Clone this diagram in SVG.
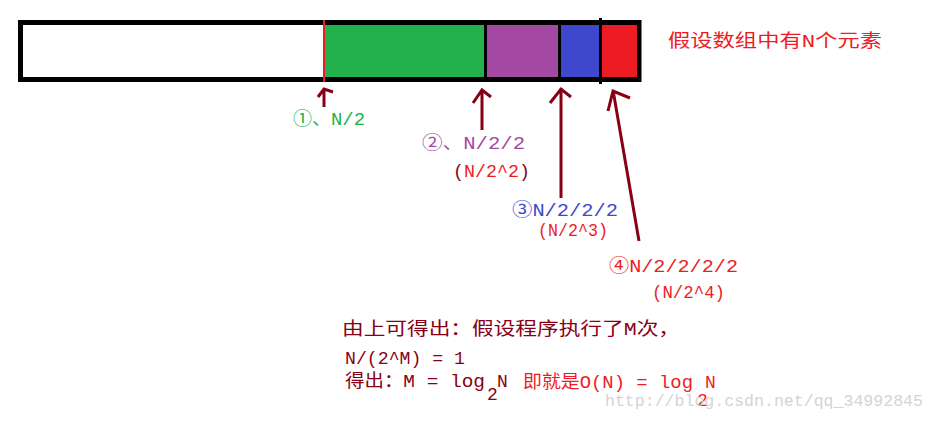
<svg xmlns="http://www.w3.org/2000/svg" width="935" height="421" viewBox="0 0 935 421">
<style>
.t{font-family:"Liberation Mono","Noto Sans CJK SC",monospace;font-size:18px}
.arr{fill:none;stroke:#880015;stroke-width:3;stroke-linecap:butt;stroke-linejoin:miter}
.div{stroke:#000;stroke-width:3}
</style>
<rect x="0" y="0" width="935" height="421" fill="#fff"/>
<g id="bar">
<rect x="20.5" y="22.5" width="618.5" height="57" fill="#fff" stroke="#000" stroke-width="5"/>
<rect x="325" y="25" width="160" height="52" fill="#22b14c"/>
<rect x="486" y="25" width="73" height="52" fill="#a349a4"/>
<rect x="560" y="25" width="40" height="52" fill="#3f48cc"/>
<rect x="601" y="25" width="36" height="52" fill="#ed1c24"/>
<line class="div" x1="485.5" y1="20" x2="485.5" y2="82"/>
<line class="div" x1="559.5" y1="20" x2="559.5" y2="82"/>
<line class="div" x1="600.5" y1="18" x2="600.5" y2="84"/>
<line x1="324" y1="20" x2="324" y2="82" stroke="#ed1c24" stroke-width="2"/>
</g>
<g id="connectors">
<path class="arr" d="M324 107 V88 M318 97 L324 89 L333 92"/>
<path class="arr" d="M482 130 V90 M473 103 L482 90 L491 97"/>
<path class="arr" d="M561 198 V88 M550 103 L561 89 L571 97"/>
<path class="arr" d="M639 241 L613 90 M608 111 L613 91 L630 98"/>
</g>
<g id="label1"><text class="t" x="293" y="125" fill="#22b14c" textLength="72" lengthAdjust="spacingAndGlyphs">①、N/2</text></g>
<g id="label2">
<text class="t" x="422" y="149" fill="#a349a4" textLength="103" lengthAdjust="spacingAndGlyphs">②、N/2/2</text>
<text class="t" x="453" y="177" fill="#ed1c24" textLength="77" lengthAdjust="spacingAndGlyphs"><tspan fill="#880015">(</tspan>N/2^2<tspan fill="#880015">)</tspan></text>
</g>
<g id="label3">
<text class="t" x="512" y="216" fill="#3f48cc" textLength="106" lengthAdjust="spacingAndGlyphs">③N/2/2/2</text>
<text class="t" x="538" y="236" fill="#ed1c24" textLength="70" lengthAdjust="spacingAndGlyphs">(N/2^3)</text>
</g>
<g id="label4">
<text class="t" x="609" y="272" fill="#ed1c24" textLength="129" lengthAdjust="spacingAndGlyphs">④N/2/2/2/2</text>
<text class="t" x="652" y="298" fill="#ed1c24" textLength="73" lengthAdjust="spacingAndGlyphs">(N/2^4)</text>
</g>
<g id="title"><text class="t" x="668" y="47" fill="#ed1c24" textLength="214" lengthAdjust="spacingAndGlyphs">假设数组中有N个元素</text></g>
<g id="conclusion">
<text class="t" x="342" y="335" fill="#880015" textLength="338" lengthAdjust="spacingAndGlyphs">由上可得出：假设程序执行了M次，</text>
<text class="t" x="345" y="364" fill="#880015" textLength="120" lengthAdjust="spacingAndGlyphs">N/(2^M) = 1</text>
<text class="t" x="345" y="387" fill="#880015" textLength="140" lengthAdjust="spacingAndGlyphs">得出：M = log</text>
<text class="t" x="487" y="400" fill="#880015">2</text>
<text class="t" x="497" y="387" fill="#880015">N</text>
<text class="t" x="523" y="388" fill="#ed1c24" textLength="170" lengthAdjust="spacingAndGlyphs">即就是O(N) = log</text>
<text class="t" x="697" y="406" fill="#ed1c24">2</text>
<text class="t" x="705" y="388" fill="#ed1c24">N</text>
</g>
<g id="watermark"><text x="605" y="406" fill="#d4d4d4" font-family="Liberation Mono, monospace" font-size="16.5" textLength="318" lengthAdjust="spacingAndGlyphs">http://blog.csdn.net/qq_34992845</text></g>
</svg>
